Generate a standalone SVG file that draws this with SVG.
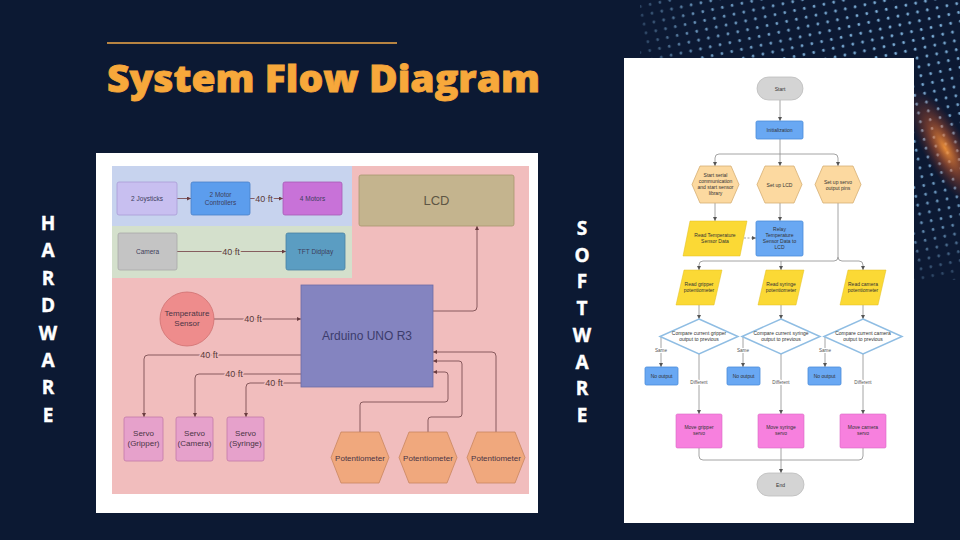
<svg xmlns="http://www.w3.org/2000/svg" width="960" height="540" viewBox="0 0 960 540">
<defs>
<style>
text{font-family:"Liberation Sans",Arial,sans-serif;text-anchor:middle}
.side{font-family:"Open Sans","DejaVu Sans",sans-serif;font-weight:700;font-size:19px;fill:#ffffff;stroke:#ffffff;stroke-width:0.4}
.hw{stroke:#7d4f52;stroke-width:0.9;fill:none}
.fc{stroke:#8d8d8d;stroke-width:0.8;fill:none}
.t65{font-size:6.5px;fill:#3d3d5c}
.t8{font-size:8px;fill:#4a3545}
.lbl{font-size:9px;fill:#5a3a3a;paint-order:stroke;stroke-width:3px;stroke-linejoin:round}
.onb{stroke:#c7d3ee}.ong{stroke:#d4e0cc}.onp{stroke:#f1bdbd}
.f5{font-size:5px;fill:#333}
.fl{font-size:4.6px;fill:#555;paint-order:stroke;stroke:#fff;stroke-width:2px}
.hex{fill:#fcd9a0;stroke:#d6ae74;stroke-width:0.8}
.par{fill:#fbd935;stroke:#e0bf20;stroke-width:0.5}
.blu{fill:#69a8f3;stroke:#4a8bd8;stroke-width:0.8}
.dia{fill:#fff;stroke:#8fbde3;stroke-width:1.5}
.mov{fill:#f780de;stroke:#d865c2;stroke-width:0.6}
.term{fill:#d4d4d4;stroke:#bcbcbc;stroke-width:0.8}
.servo{fill:#e6a1cb;stroke:#c37aa8;stroke-width:0.8}
.pot{fill:#f0a87d;stroke:#c98660;stroke-width:0.8}
</style>
<marker id="ah" viewBox="0 0 6 6" refX="6" refY="3" markerWidth="4" markerHeight="4" markerUnits="userSpaceOnUse" orient="auto">
<path d="M0,0 L6,3 L0,6 z" fill="#6a3c40"/>
</marker>
<marker id="af" viewBox="0 0 6 6" refX="6" refY="3" markerWidth="4" markerHeight="4" markerUnits="userSpaceOnUse" orient="auto">
<path d="M0,0 L6,3 L0,6 z" fill="#555"/>
</marker>
<pattern id="dots" width="10" height="9" patternUnits="userSpaceOnUse" patternTransform="rotate(-12)">
<circle cx="5" cy="4.5" r="1.4" fill="#7fb2dc"/>
</pattern>
<radialGradient id="fade" gradientUnits="userSpaceOnUse" cx="900" cy="20" r="290">
<stop offset="0" stop-color="#fff" stop-opacity="1"/>
<stop offset="0.7" stop-color="#fff" stop-opacity="0.8"/>
<stop offset="1" stop-color="#fff" stop-opacity="0"/>
</radialGradient>
<mask id="dm"><rect x="640" y="0" width="320" height="280" fill="url(#fade)"/></mask>
<radialGradient id="glow">
<stop offset="0" stop-color="#ff9a3a" stop-opacity="0.9"/>
<stop offset="0.45" stop-color="#e0602a" stop-opacity="0.45"/>
<stop offset="1" stop-color="#8a2a20" stop-opacity="0"/>
</radialGradient>
</defs>

<rect width="960" height="540" fill="#0c1933"/>

<g id="decoration">
<rect x="640" y="0" width="320" height="280" fill="url(#dots)" mask="url(#dm)"/>
<ellipse cx="945" cy="148" rx="68" ry="22" transform="rotate(60 945 148)" fill="url(#glow)"/>
</g>

<g id="title">
<line x1="107" y1="43" x2="397" y2="43" stroke="#f0a948" stroke-width="1.5"/>
<text x="107" y="92" style="text-anchor:start;font-family:'Open Sans','DejaVu Sans',sans-serif;font-weight:800;font-size:37px;fill:#f7a83b;stroke:#f7a83b;stroke-width:0.8" textLength="433" lengthAdjust="spacingAndGlyphs">System Flow Diagram</text>
</g>

<g id="hardware-label">
<text class="side" x="48" y="230">H</text>
<text class="side" x="48" y="257.4">A</text>
<text class="side" x="48" y="284.8">R</text>
<text class="side" x="48" y="312.2">D</text>
<text class="side" x="48" y="339.6">W</text>
<text class="side" x="48" y="367">A</text>
<text class="side" x="48" y="394.4">R</text>
<text class="side" x="48" y="421.8">E</text>
</g>
<g id="software-label">
<text class="side" x="582" y="235">S</text>
<text class="side" x="582" y="261.7">O</text>
<text class="side" x="582" y="288.4">F</text>
<text class="side" x="582" y="315.1">T</text>
<text class="side" x="582" y="341.8">W</text>
<text class="side" x="582" y="368.5">A</text>
<text class="side" x="582" y="395.2">R</text>
<text class="side" x="582" y="421.9">E</text>
</g>

<!-- HARDWARE DIAGRAM -->
<g id="hw-panel">
<rect x="96" y="153" width="442" height="360" fill="#ffffff"/>
<rect x="112" y="166" width="417" height="328" fill="#f1bdbd"/>
<rect x="112" y="166" width="240" height="60" fill="#c7d3ee"/>
<rect x="112" y="226" width="240" height="52" fill="#d4e0cc"/>
</g>

<g id="hw-connectors">
<path class="hw" d="M177,198.5 H191" marker-end="url(#ah)"/>
<path class="hw" d="M250,198.5 H283" marker-end="url(#ah)"/>
<path class="hw" d="M177,251.5 H286" marker-end="url(#ah)"/>
<path class="hw" d="M214,319 H301" marker-end="url(#ah)"/>
<path class="hw" d="M433,311 H473 Q477,311 477,307 V226" marker-end="url(#ah)"/>
<path class="hw" d="M301,355 H148 Q144,355 144,359 V417" marker-end="url(#ah)"/>
<path class="hw" d="M301,374 H199 Q195,374 195,378 V417" marker-end="url(#ah)"/>
<path class="hw" d="M301,383 H250 Q246,383 246,387 V417" marker-end="url(#ah)"/>
<path class="hw" d="M496,432 V356 Q496,352 492,352 H433" marker-end="url(#ah)"/>
<path class="hw" d="M428,432 V420 Q428,417 431,417 H459 Q462,417 462,414 V364 Q462,361 459,361 H433" marker-end="url(#ah)"/>
<path class="hw" d="M360,432 V405 Q360,402 363,402 H445 Q448,402 448,399 V375 Q448,372 445,372 H433" marker-end="url(#ah)"/>
<text class="lbl onb" x="264" y="201.5">40 ft</text>
<text class="lbl ong" x="231" y="254.5">40 ft</text>
<text class="lbl onp" x="253" y="322">40 ft</text>
<text class="lbl onp" x="209" y="358">40 ft</text>
<text class="lbl onp" x="234" y="377">40 ft</text>
<text class="lbl onp" x="274" y="386">40 ft</text>
</g>

<g id="joysticks">
<rect x="117" y="182" width="60" height="33" rx="2" fill="#c8bff0" stroke="#a99cd6" stroke-width="0.8"/>
<text class="t65" x="147" y="201">2 Joysticks</text>
</g>
<g id="motor-controllers">
<rect x="191" y="182" width="59" height="33" rx="2" fill="#5c9ded" stroke="#4a80c8" stroke-width="0.8"/>
<text class="t65" x="220.5" y="197">2 Motor</text>
<text class="t65" x="220.5" y="205">Controllers</text>
</g>
<g id="motors">
<rect x="283" y="182" width="59" height="33" rx="2" fill="#c872d8" stroke="#a65cb5" stroke-width="0.8"/>
<text class="t65" x="312.5" y="201">4 Motors</text>
</g>
<g id="camera">
<rect x="118" y="233" width="59" height="37" rx="2" fill="#c4c4c4" stroke="#a8a8a8" stroke-width="0.8"/>
<text class="t65" x="147.5" y="254">Camera</text>
</g>
<g id="tft">
<rect x="286" y="233" width="59" height="37" rx="2" fill="#5b9dc2" stroke="#4a82a2" stroke-width="0.8"/>
<text class="t65" x="315.5" y="254">TFT Didplay</text>
</g>
<g id="lcd">
<rect x="359" y="175" width="155" height="51" rx="2" fill="#c4b48e" stroke="#a8986f" stroke-width="0.8"/>
<text x="436.5" y="205" style="font-size:13px;fill:#5e5644">LCD</text>
</g>
<g id="temp-sensor">
<circle cx="187" cy="319" r="27" fill="#ee8c8c" stroke="#cf7070" stroke-width="0.8"/>
<text class="t8" x="187" y="316">Temperature</text>
<text class="t8" x="187" y="326">Sensor</text>
</g>
<g id="arduino">
<rect x="301" y="285" width="132" height="102" fill="#8484c0" stroke="#6b6ba6" stroke-width="0.8"/>
<text x="367" y="340" style="font-size:12px;fill:#3c3c6c">Arduino UNO R3</text>
</g>
<g id="servo-gripper">
<rect class="servo" x="124" y="417" width="39" height="44" rx="2"/>
<text class="t8" x="143.5" y="436">Servo</text>
<text class="t8" x="143.5" y="446">(Gripper)</text>
</g>
<g id="servo-camera">
<rect class="servo" x="176" y="417" width="37" height="44" rx="2"/>
<text class="t8" x="194.5" y="436">Servo</text>
<text class="t8" x="194.5" y="446">(Camera)</text>
</g>
<g id="servo-syringe">
<rect class="servo" x="227" y="417" width="37" height="44" rx="2"/>
<text class="t8" x="245.5" y="436">Servo</text>
<text class="t8" x="245.5" y="446">(Syringe)</text>
</g>
<g id="pot1">
<polygon class="pot" points="331,457.5 341,432 379,432 389,457.5 379,483 341,483"/>
<text class="t8" x="360" y="460.5">Potentiometer</text>
</g>
<g id="pot2">
<polygon class="pot" points="399,457.5 409,432 447,432 457,457.5 447,483 409,483"/>
<text class="t8" x="428" y="460.5">Potentiometer</text>
</g>
<g id="pot3">
<polygon class="pot" points="467,457.5 477,432 515,432 525,457.5 515,483 477,483"/>
<text class="t8" x="496" y="460.5">Potentiometer</text>
</g>

<!-- SOFTWARE FLOWCHART -->
<g id="sw-panel">
<rect x="624" y="58" width="290" height="465" fill="#ffffff"/>
</g>

<g id="sw-connectors">
<path class="fc" d="M780,100 V121" marker-end="url(#af)"/>
<path class="fc" d="M780,139 V166" marker-end="url(#af)"/>
<path class="fc" d="M780,154 H719 Q715,154 715,158 V166" marker-end="url(#af)"/>
<path class="fc" d="M780,154 H834 Q838,154 838,158 V166" marker-end="url(#af)"/>
<path class="fc" d="M715,203 V221" marker-end="url(#af)"/>
<path class="fc" d="M780,203 V221" marker-end="url(#af)"/>
<path class="fc" d="M744,238 H756" stroke-dasharray="2,1.5" marker-end="url(#af)"/>
<path class="fc" d="M838,203 V257 Q838,261 842,261 H859 Q863,261 863,265 V270" marker-end="url(#af)"/>
<path class="fc" d="M838,257 Q838,261 834,261 H703 Q699,261 699,265 V270" marker-end="url(#af)"/>
<path class="fc" d="M781,261 V270" marker-end="url(#af)"/>
<path class="fc" d="M699,305 V319" marker-end="url(#af)"/>
<path class="fc" d="M781,305 V319" marker-end="url(#af)"/>
<path class="fc" d="M863,305 V319" marker-end="url(#af)"/>
<path class="fc" d="M661,337 V367" marker-end="url(#af)"/>
<path class="fc" d="M743,337 V367" marker-end="url(#af)"/>
<path class="fc" d="M825,337 V367" marker-end="url(#af)"/>
<path class="fc" d="M699,354 V414" marker-end="url(#af)"/>
<path class="fc" d="M781,354 V414" marker-end="url(#af)"/>
<path class="fc" d="M863,354 V414" marker-end="url(#af)"/>
<path class="fc" d="M699,448 V456 Q699,460 703,460 H859 Q863,460 863,456 V448"/>
<path class="fc" d="M781,448 V473" marker-end="url(#af)"/>
<text class="fl" x="661" y="352">Same</text>
<text class="fl" x="743" y="352">Same</text>
<text class="fl" x="825" y="352">Same</text>
<text class="fl" x="699" y="384">Different</text>
<text class="fl" x="781" y="384">Different</text>
<text class="fl" x="863" y="384">Different</text>
</g>

<g id="start">
<rect class="term" x="757" y="77" width="46" height="23" rx="11.5"/>
<text class="f5" x="780" y="90.5">Start</text>
</g>
<g id="init">
<rect class="blu" x="756" y="121" width="47" height="18" rx="1.5"/>
<text class="f5" x="779.5" y="131.5">Initialization</text>
</g>
<g id="serial">
<polygon class="hex" points="692,184.5 700,166 731,166 739,184.5 731,203 700,203"/>
<text class="f5" x="715.5" y="177">Start serial</text>
<text class="f5" x="715.5" y="183">communication</text>
<text class="f5" x="715.5" y="189">and start sensor</text>
<text class="f5" x="715.5" y="195">library</text>
</g>
<g id="setup-lcd">
<polygon class="hex" points="757,184.5 765,166 794,166 802,184.5 794,203 765,203"/>
<text class="f5" x="779.5" y="186.5">Set up LCD</text>
</g>
<g id="setup-servo">
<polygon class="hex" points="815,184.5 823,166 853,166 861,184.5 853,203 823,203"/>
<text class="f5" x="838" y="183.5">Set up servo</text>
<text class="f5" x="838" y="189.5">output pins</text>
</g>
<g id="read-temp">
<polygon class="par" points="690,221 747,221 740,256 683,256"/>
<text class="f5" x="715" y="237">Read Temperature</text>
<text class="f5" x="715" y="243">Sensor Data</text>
</g>
<g id="relay">
<rect class="blu" x="756" y="221" width="47" height="35" rx="1.5"/>
<text class="f5" x="779.5" y="231">Relay</text>
<text class="f5" x="779.5" y="237">Temperature</text>
<text class="f5" x="779.5" y="243">Sensor Data to</text>
<text class="f5" x="779.5" y="249">LCD</text>
</g>
<g id="read-gripper">
<polygon class="par" points="684,270 722,270 714,305 676,305"/>
<text class="f5" x="699" y="286">Read gripper</text>
<text class="f5" x="699" y="292">potentiometer</text>
</g>
<g id="read-syringe">
<polygon class="par" points="766,270 804,270 796,305 758,305"/>
<text class="f5" x="781" y="286">Read syringe</text>
<text class="f5" x="781" y="292">potentiometer</text>
</g>
<g id="read-camera">
<polygon class="par" points="848,270 886,270 878,305 840,305"/>
<text class="f5" x="863" y="286">Read camera</text>
<text class="f5" x="863" y="292">potentiometer</text>
</g>
<g id="cmp-gripper">
<polygon class="dia" points="699,319 738,336.5 699,354 660,336.5"/>
<text class="f5" x="699" y="335">Compare current gripper</text>
<text class="f5" x="699" y="341">output to previous</text>
</g>
<g id="cmp-syringe">
<polygon class="dia" points="781,319 820,336.5 781,354 742,336.5"/>
<text class="f5" x="781" y="335">Compare current syringe</text>
<text class="f5" x="781" y="341">output to previous</text>
</g>
<g id="cmp-camera">
<polygon class="dia" points="863,319 902,336.5 863,354 824,336.5"/>
<text class="f5" x="863" y="335">Compare current camera</text>
<text class="f5" x="863" y="341">output to previous</text>
</g>
<g id="no-out-1">
<rect class="blu" x="645" y="367" width="33" height="18" rx="1.5"/>
<text class="f5" x="661.5" y="377.5">No output</text>
</g>
<g id="no-out-2">
<rect class="blu" x="727" y="367" width="33" height="18" rx="1.5"/>
<text class="f5" x="743.5" y="377.5">No output</text>
</g>
<g id="no-out-3">
<rect class="blu" x="808" y="367" width="33" height="18" rx="1.5"/>
<text class="f5" x="824.5" y="377.5">No output</text>
</g>
<g id="move-gripper">
<rect class="mov" x="676" y="414" width="46" height="34" rx="1.5"/>
<text class="f5" x="699" y="429">Move gripper</text>
<text class="f5" x="699" y="435">servo</text>
</g>
<g id="move-syringe">
<rect class="mov" x="758" y="414" width="46" height="34" rx="1.5"/>
<text class="f5" x="781" y="429">Move syringe</text>
<text class="f5" x="781" y="435">servo</text>
</g>
<g id="move-camera">
<rect class="mov" x="840" y="414" width="46" height="34" rx="1.5"/>
<text class="f5" x="863" y="429">Move camera</text>
<text class="f5" x="863" y="435">servo</text>
</g>
<g id="end">
<rect class="term" x="757" y="473" width="47" height="23" rx="11.5"/>
<text class="f5" x="780.5" y="486.5">End</text>
</g>
</svg>
